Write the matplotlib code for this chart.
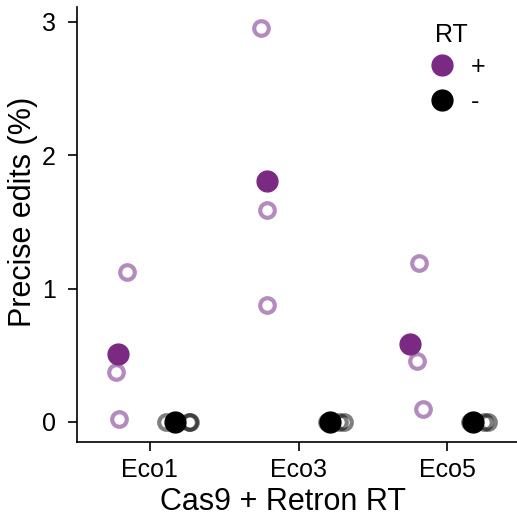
import matplotlib
matplotlib.use("Agg")
import matplotlib.pyplot as plt
from matplotlib.lines import Line2D
import numpy as np

plt.rcParams['font.family'] = ['Liberation Sans', 'DejaVu Sans']

categories = ["Eco1", "Eco3", "Eco5"]
rt_plus_reps = [[1.125, 0.375, 0.02], [2.955, 1.59, 0.88], [1.19, 0.46, 0.10]]
rt_minus_reps = [[0.0, 0.0, 0.0], [0.0, 0.0, 0.0], [0.0, 0.0, 0.0]]
# small horizontal jitter (fraction of category spacing)
plus_jitter = [[0.06, -0.01, 0.01], [-0.04, -0.0, -0.0], [0.06, 0.05, 0.09]]
minus_jitter = [[-0.06, 0.09, 0.1], [-0.02, 0.06, 0.09], [-0.02, 0.07, 0.1]]
plus_offset = [-0.215, -0.21, -0.25]
minus_offset = [0.17, 0.215, 0.175]

purple = "#7B2A83"
light_purple = "#B48BBE"

fig = plt.figure(figsize=(5.17, 5.21), dpi=100)
ax = fig.add_axes([0.149, 0.1516, 0.851, 0.835])

x = np.arange(len(categories))
for i in range(len(categories)):
    # replicates
    for v, j in zip(rt_plus_reps[i], plus_jitter[i]):
        ax.plot(x[i] + plus_offset[i] + j, v, 'o', ms=10.5, mfc='white',
                mec=light_purple, mew=3, zorder=2)
    for v, j in zip(rt_minus_reps[i], minus_jitter[i]):
        ax.plot(x[i] + minus_offset[i] + j, v, 'o', ms=10.5, mfc='none',
                mec='black', mew=3, alpha=0.5, zorder=2)
    # means
    ax.plot(x[i] + plus_offset[i], np.mean(rt_plus_reps[i]), 'o', ms=15,
            color=purple, zorder=3)
    ax.plot(x[i] + minus_offset[i], np.mean(rt_minus_reps[i]), 'o', ms=15,
            color='black', zorder=3)

ax.set_xlim(-0.49, 2.47)
ax.set_ylim(-0.15, 3.11)
ax.set_xticks(x)
ax.set_xticklabels(categories)
ax.set_yticks([0, 1, 2, 3])
ax.tick_params(labelsize=18, width=1.2, length=6.5)
ax.tick_params(axis='y', pad=9)
ax.tick_params(axis='x', pad=5)
ax.spines['top'].set_visible(False)
ax.spines['right'].set_visible(False)
ax.spines['left'].set_linewidth(1.2)
ax.spines['bottom'].set_linewidth(1.2)
ax.set_xlabel("Cas9 + Retron RT", fontsize=22)
ax.set_ylabel("Precise edits (%)", fontsize=22)
ax.yaxis.set_label_coords(-0.123, 0.529)
ax.xaxis.set_label_coords(0.468, -0.137)
ax.xaxis.label.set_va('center')
ax.yaxis.label.set_va('center')

handles = [Line2D([], [], marker='o', ls='', ms=15, color=purple),
           Line2D([], [], marker='o', ls='', ms=15, color='black')]
leg = ax.legend(handles, ['+', '-'], title='RT', frameon=False, fontsize=18,
                title_fontsize=18, loc='upper right', bbox_to_anchor=(0.98, 1.016),
                handletextpad=0.16, labelspacing=0.45)
leg._legend_box.sep = 6

fig.savefig("out.png", dpi=100)
